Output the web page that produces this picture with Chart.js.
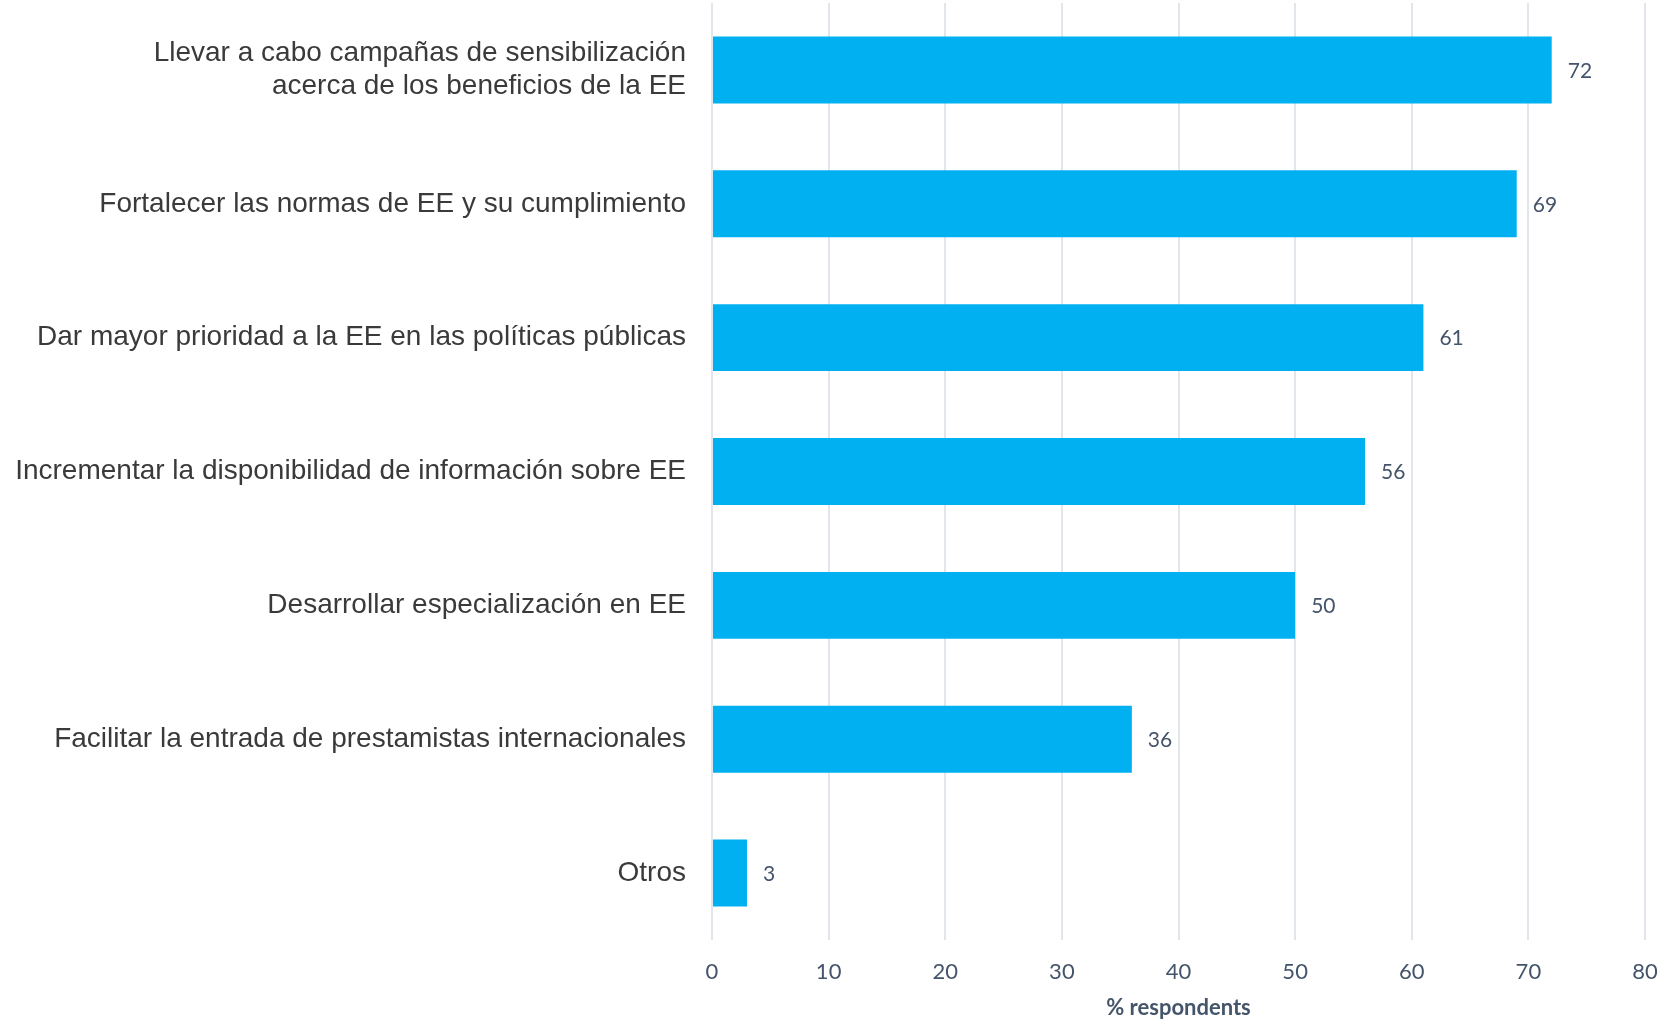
<!DOCTYPE html>
<html>
<head>
<meta charset="utf-8">
<script src="https://cdn.jsdelivr.net/npm/chart.js@4/dist/chart.umd.min.js"></script>
<style>
    html, body { margin: 0; padding: 0; background: #ffffff; }
    #wrap { width: 1672px; height: 1021px; position: relative; }
</style>
</head>
<body>
<div id="wrap"><canvas id="chart"></canvas></div>
<script>
const categories = [
    ['Llevar a cabo campañas de sensibilización', 'acerca de los beneficios de la EE'],
    'Fortalecer las normas de EE y su cumplimiento',
    'Dar mayor prioridad a la EE en las políticas públicas',
    'Incrementar la disponibilidad de información sobre EE',
    'Desarrollar especialización en EE',
    'Facilitar la entrada de prestamistas internacionales',
    'Otros'
];
const percentValues = [72, 69, 61, 56, 50, 36, 3];
const xTicks = [0, 10, 20, 30, 40, 50, 60, 70, 80];
const axisTitle = '% respondents';

const slate = '#44546A';

// draws the value next to the end of every bar
const valueLabels = {
    id: 'valueLabels',
    afterDatasetsDraw(chart) {
        const ctx = chart.ctx;
        const meta = chart.getDatasetMeta(0);
        ctx.save();
        ctx.font = '21px Lato';
        ctx.fillStyle = slate;
        ctx.textAlign = 'left';
        ctx.textBaseline = 'middle';
        meta.data.forEach((bar, i) => {
            ctx.fillText(String(percentValues[i]), bar.x + 16, bar.y + 1);
        });
        ctx.restore();
    }
};

const ctx = document.getElementById('chart').getContext('2d');
new Chart(ctx, {
    type: 'bar',
    data: {
        labels: categories,
        datasets: [{
            data: percentValues,
            backgroundColor: '#00B0F0',
            borderWidth: 0,
            barPercentage: 0.5,
            categoryPercentage: 1
        }]
    },
    options: {
        indexAxis: 'y',
        responsive: true,
        maintainAspectRatio: false,
        animation: false,
        layout: { padding: { top: 3, right: 27, bottom: 0, left: 0 } },
        plugins: {
            legend: { display: false },
            tooltip: { enabled: false }
        },
        scales: {
            x: {
                min: 0,
                max: 80,
                afterBuildTicks: scale => { scale.ticks = xTicks.map(v => ({ value: v })); },
                afterFit: scale => {
                    scale.height = 81;
                    scale.paddingLeft = 0;
                    scale.paddingRight = 0;
                },
                grid: { color: '#E1E5EC', lineWidth: 2, drawTicks: false },
                border: { display: false },
                ticks: { font: { family: 'Lato', size: 22 }, color: slate, padding: 19 },
                title: {
                    display: true,
                    text: axisTitle,
                    color: slate,
                    font: { family: 'Lato', size: 22, weight: 'bold' },
                    padding: { top: 0, bottom: 0 }
                }
            },
            y: {
                afterFit: scale => {
                    scale.width = 712;
                    scale.paddingTop = 0;
                    scale.paddingBottom = 0;
                },
                grid: { display: false, drawTicks: false },
                border: { display: false },
                ticks: {
                    font: { family: 'Liberation Sans', size: 28, lineHeight: 1.18 },
                    color: '#3A3A3A',
                    padding: 26
                }
            }
        }
    },
    plugins: [valueLabels]
});
</script>
</body>
</html>
